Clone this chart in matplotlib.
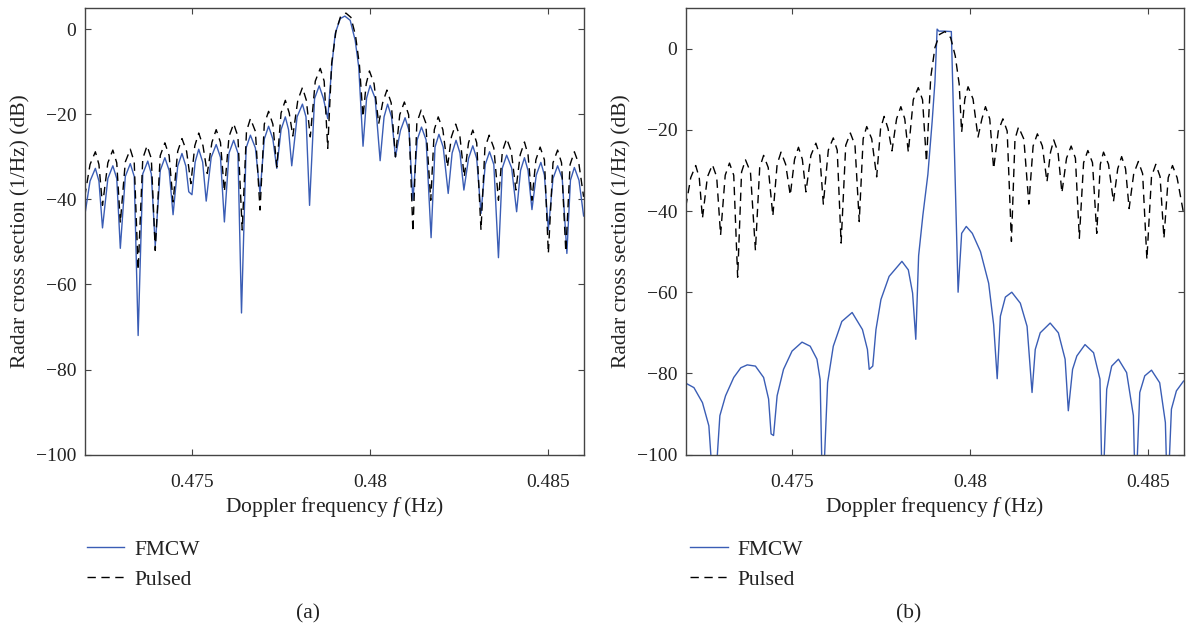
import matplotlib.pyplot as plt

plt.rcParams['font.family'] = ['Liberation Serif', 'DejaVu Serif']
plt.rcParams['mathtext.fontset'] = 'custom'
plt.rcParams['mathtext.rm'] = 'Liberation Serif'
plt.rcParams['mathtext.it'] = 'Liberation Serif:italic'
plt.rcParams['font.size'] = 15.5

FREQ_TICKS = [0.475, 0.48, 0.485]
FREQ_TICK_LABELS = ['0.475', '0.48', '0.485']
DB_TICKS = [0, -20, -40, -60, -80, -100]

# panel (a): FMCW
fmcw_a_freq = [
    0.47200, 0.47215, 0.47230, 0.47240, 0.47250, 0.47265, 0.47279, 0.47290,
    0.47300, 0.47314, 0.47328, 0.47339, 0.47350, 0.47363, 0.47377, 0.47387,
    0.47398, 0.47412, 0.47425, 0.47437, 0.47448, 0.47461, 0.47473, 0.47484,
    0.47492, 0.47501, 0.47510, 0.47520, 0.47531, 0.47541, 0.47555, 0.47569,
    0.47581, 0.47592, 0.47605, 0.47618, 0.47630, 0.47640, 0.47653, 0.47665,
    0.47679, 0.47692, 0.47704, 0.47716, 0.47728, 0.47739, 0.47751, 0.47763,
    0.47772, 0.47781, 0.47796, 0.47811, 0.47821, 0.47831, 0.47845, 0.47858,
    0.47870, 0.47882, 0.47894, 0.47903, 0.47917, 0.47930, 0.47945, 0.47959,
    0.47969, 0.47981, 0.47991, 0.48001, 0.48015, 0.48029, 0.48040, 0.48050,
    0.48061, 0.48072, 0.48086, 0.48099, 0.48110, 0.48121, 0.48133, 0.48145,
    0.48158, 0.48172, 0.48183, 0.48194, 0.48206, 0.48220, 0.48231, 0.48242,
    0.48253, 0.48264, 0.48277, 0.48289, 0.48300, 0.48312, 0.48324, 0.48336,
    0.48348, 0.48361, 0.48372, 0.48384, 0.48398, 0.48412, 0.48423, 0.48434,
    0.48444, 0.48455, 0.48467, 0.48480, 0.48490, 0.48501, 0.48514, 0.48527,
    0.48540, 0.48553, 0.48563, 0.48574, 0.48587, 0.48600,
]
fmcw_a_db = [
    -43.9, -35.7, -32.7, -35.7, -46.7, -35.1, -32.1, -35.1,
    -51.5, -34.6, -31.6, -34.6, -72.0, -34.0, -31.0, -34.0,
    -50.9, -33.2, -30.2, -33.2, -43.6, -32.2, -29.2, -32.2,
    -38.2, -38.9, -31.2, -28.2, -31.2, -40.4, -30.1, -27.1,
    -30.1, -45.3, -29.1, -26.1, -29.1, -66.7, -27.9, -24.9,
    -27.9, -38.6, -25.8, -22.8, -25.8, -32.7, -23.6, -20.6,
    -23.6, -32.1, -20.6, -17.6, -20.6, -41.4, -16.3, -13.3,
    -16.3, -21.0, -8.1, -1.0, 2.5, 3.1, 2.1, -2.6,
    -8.9, -27.5, -16.2, -13.2, -16.2, -30.9, -20.6, -17.6,
    -20.6, -30.0, -23.8, -20.8, -23.8, -40.2, -26.0, -23.0,
    -26.0, -49.0, -27.7, -24.7, -27.7, -38.6, -29.1, -26.1,
    -29.1, -37.8, -30.4, -27.4, -30.4, -43.3, -31.8, -28.8,
    -31.8, -53.7, -32.6, -29.6, -32.6, -42.9, -33.2, -30.2,
    -33.2, -42.4, -34.3, -31.3, -34.3, -47.2, -35.1, -32.1,
    -35.1, -52.7, -35.5, -32.5, -35.5, -43.9,
]

# panel (a): pulsed
pulsed_a_freq = [
    0.47200, 0.47215, 0.47230, 0.47240, 0.47250, 0.47265, 0.47279, 0.47290,
    0.47300, 0.47314, 0.47328, 0.47339, 0.47350, 0.47363, 0.47375, 0.47387,
    0.47398, 0.47412, 0.47425, 0.47437, 0.47448, 0.47461, 0.47473, 0.47486,
    0.47498, 0.47509, 0.47520, 0.47532, 0.47544, 0.47557, 0.47569, 0.47581,
    0.47592, 0.47605, 0.47618, 0.47630, 0.47642, 0.47654, 0.47665, 0.47679,
    0.47692, 0.47704, 0.47716, 0.47728, 0.47739, 0.47751, 0.47763, 0.47774,
    0.47784, 0.47798, 0.47811, 0.47822, 0.47833, 0.47847, 0.47861, 0.47872,
    0.47882, 0.47893, 0.47905, 0.47918, 0.47933, 0.47947, 0.47960, 0.47971,
    0.47981, 0.47990, 0.47999, 0.48012, 0.48025, 0.48036, 0.48048, 0.48060,
    0.48072, 0.48084, 0.48097, 0.48109, 0.48121, 0.48132, 0.48144, 0.48157,
    0.48171, 0.48181, 0.48192, 0.48205, 0.48218, 0.48229, 0.48241, 0.48253,
    0.48265, 0.48277, 0.48289, 0.48300, 0.48312, 0.48323, 0.48335, 0.48348,
    0.48361, 0.48372, 0.48384, 0.48397, 0.48410, 0.48422, 0.48434, 0.48444,
    0.48455, 0.48466, 0.48478, 0.48490, 0.48501, 0.48514, 0.48527, 0.48538,
    0.48550, 0.48562, 0.48574, 0.48587, 0.48600,
]
pulsed_a_db = [
    -39.4, -31.8, -28.8, -31.8, -41.4, -31.4, -28.4, -31.4,
    -45.5, -31.2, -28.2, -31.2, -56.6, -30.4, -27.4, -30.4,
    -52.0, -29.7, -26.7, -29.7, -40.6, -28.7, -25.7, -28.7,
    -36.3, -27.4, -24.4, -27.4, -33.9, -26.6, -23.6, -26.6,
    -38.2, -25.2, -22.2, -25.2, -47.2, -24.0, -21.0, -24.0,
    -42.5, -22.3, -19.3, -22.3, -32.4, -19.7, -16.7, -19.7,
    -25.1, -16.7, -13.7, -16.7, -25.3, -12.2, -9.2, -12.2,
    -28.0, -8.0, -0.5, 3.0, 3.8, 2.8, -1.5, -8.5,
    -20.6, -12.8, -9.8, -12.8, -22.2, -17.3, -14.3, -17.3,
    -30.0, -20.1, -17.1, -20.1, -47.6, -22.0, -19.0, -22.0,
    -40.2, -23.6, -20.6, -23.6, -32.4, -25.3, -22.3, -25.3,
    -34.7, -26.7, -23.7, -26.7, -47.2, -27.9, -24.9, -27.9,
    -40.2, -28.7, -25.7, -28.7, -37.8, -29.5, -26.5, -29.5,
    -40.2, -30.7, -27.7, -30.7, -52.7, -31.4, -28.4, -31.4,
    -52.3, -31.8, -28.8, -31.8, -39.4,
]

# panel (b): FMCW
fmcw_b_freq = [
    0.47200, 0.47223, 0.47247, 0.47265, 0.47280, 0.47296, 0.47312, 0.47335,
    0.47355, 0.47373, 0.47396, 0.47419, 0.47433, 0.47440, 0.47447, 0.47457,
    0.47475, 0.47499, 0.47527, 0.47550, 0.47569, 0.47578, 0.47585, 0.47599,
    0.47615, 0.47639, 0.47668, 0.47697, 0.47711, 0.47716, 0.47726, 0.47735,
    0.47749, 0.47772, 0.47808, 0.47826, 0.47838, 0.47847, 0.47855, 0.47867,
    0.47881, 0.47893, 0.47901, 0.47907, 0.47912, 0.47926, 0.47947, 0.47966,
    0.47976, 0.47989, 0.48006, 0.48029, 0.48052, 0.48066, 0.48076, 0.48085,
    0.48099, 0.48117, 0.48141, 0.48160, 0.48174, 0.48183, 0.48197, 0.48225,
    0.48248, 0.48267, 0.48276, 0.48288, 0.48300, 0.48323, 0.48347, 0.48365,
    0.48372, 0.48384, 0.48398, 0.48417, 0.48440, 0.48459, 0.48465, 0.48477,
    0.48491, 0.48510, 0.48533, 0.48549, 0.48555, 0.48566, 0.48580, 0.48600,
]
fmcw_b_db = [
    -82.4, -83.5, -87.2, -92.9, -112.0, -90.4, -85.5, -81.0,
    -78.6, -77.9, -78.2, -81.0, -86.3, -94.9, -95.3, -85.5,
    -79.0, -74.5, -72.3, -73.3, -76.5, -81.5, -112.0, -82.3,
    -73.3, -67.2, -65.0, -69.2, -74.1, -79.0, -78.2, -69.2,
    -61.8, -56.1, -52.4, -54.5, -60.2, -71.6, -51.0, -41.0,
    -31.0, -18.0, -8.0, 4.8, 4.3, 4.3, 4.2, -60.0,
    -45.5, -43.8, -45.5, -50.0, -57.8, -68.0, -81.3, -65.9,
    -61.2, -60.0, -62.7, -68.4, -84.7, -74.1, -70.0, -67.6,
    -70.0, -76.5, -89.2, -79.0, -75.7, -72.9, -74.9, -81.4,
    -112.0, -83.9, -78.2, -76.5, -79.8, -90.4, -112.0, -84.7,
    -80.6, -79.2, -82.3, -92.1, -112.0, -88.8, -84.3, -81.9,
]

# panel (b): pulsed
pulsed_b_freq = [
    0.47200, 0.47214, 0.47228, 0.47238, 0.47247, 0.47261, 0.47275, 0.47287,
    0.47298, 0.47311, 0.47323, 0.47335, 0.47346, 0.47357, 0.47368, 0.47382,
    0.47396, 0.47408, 0.47419, 0.47432, 0.47445, 0.47457, 0.47468, 0.47481,
    0.47494, 0.47506, 0.47517, 0.47528, 0.47538, 0.47552, 0.47566, 0.47577,
    0.47587, 0.47601, 0.47615, 0.47626, 0.47637, 0.47650, 0.47663, 0.47676,
    0.47688, 0.47699, 0.47709, 0.47723, 0.47737, 0.47748, 0.47758, 0.47769,
    0.47780, 0.47793, 0.47805, 0.47816, 0.47826, 0.47840, 0.47854, 0.47866,
    0.47877, 0.47889, 0.47901, 0.47914, 0.47929, 0.47945, 0.47958, 0.47969,
    0.47976, 0.47985, 0.47994, 0.48008, 0.48022, 0.48033, 0.48043, 0.48055,
    0.48066, 0.48079, 0.48092, 0.48104, 0.48116, 0.48126, 0.48136, 0.48151,
    0.48165, 0.48177, 0.48189, 0.48203, 0.48216, 0.48226, 0.48235, 0.48247,
    0.48258, 0.48271, 0.48284, 0.48296, 0.48307, 0.48319, 0.48331, 0.48344,
    0.48356, 0.48366, 0.48375, 0.48389, 0.48403, 0.48415, 0.48426, 0.48437,
    0.48447, 0.48460, 0.48473, 0.48485, 0.48497, 0.48510, 0.48522, 0.48534,
    0.48545, 0.48557, 0.48569, 0.48582, 0.48600,
]
pulsed_b_db = [
    -39.0, -31.8, -28.8, -31.8, -41.8, -31.6, -28.6, -31.6,
    -45.9, -31.2, -28.2, -31.2, -56.3, -30.4, -27.4, -30.4,
    -49.7, -29.3, -26.3, -29.3, -41.2, -28.5, -25.5, -28.5,
    -36.1, -27.3, -24.3, -27.3, -35.3, -26.3, -23.3, -26.3,
    -38.3, -25.0, -22.0, -25.0, -47.9, -23.8, -20.8, -23.8,
    -42.6, -22.2, -19.2, -22.2, -31.6, -19.7, -16.7, -19.7,
    -25.2, -17.3, -14.3, -17.3, -25.5, -12.6, -9.6, -12.6,
    -27.9, -7.1, 0.3, 3.5, 4.2, 2.7, -1.8, -8.7,
    -20.6, -12.4, -9.4, -12.4, -21.8, -17.3, -14.3, -17.3,
    -29.6, -20.3, -17.3, -20.3, -47.5, -22.3, -19.3, -22.3,
    -38.3, -24.0, -21.0, -24.0, -32.8, -25.5, -22.5, -25.5,
    -35.5, -27.0, -24.0, -27.0, -46.7, -28.1, -25.1, -28.1,
    -45.5, -28.5, -25.5, -28.5, -37.7, -29.6, -26.6, -29.6,
    -39.4, -30.8, -27.8, -30.8, -51.9, -31.5, -28.5, -31.5,
    -46.7, -31.8, -28.8, -31.8, -40.5,
]

BLUE = '#3a5db5'
INK = '#222222'


def draw_panel(ax, fmcw_f, fmcw_db, pulsed_f, pulsed_db, ylim):
    ax.plot(fmcw_f, fmcw_db, color=BLUE, lw=1.0, label='FMCW')
    ax.plot(pulsed_f, pulsed_db, color='black', lw=1.0,
            dashes=(6, 4), label='Pulsed')
    ax.set_xlim(0.472, 0.486)
    ax.set_ylim(*ylim)
    ax.set_xticks(FREQ_TICKS)
    ax.set_xticklabels(FREQ_TICK_LABELS)
    ax.set_yticks(DB_TICKS)
    ax.tick_params(direction='in', top=True, right=True, length=4,
                   width=0.8, color='#444444', labelcolor=INK,
                   labelsize=14)
    ax.tick_params(axis='x', pad=14)
    ax.tick_params(axis='y', pad=6)
    for sp in ax.spines.values():
        sp.set_color('#444444')
        sp.set_linewidth(1.0)
    ax.set_xlabel('Doppler frequency $f$ (Hz)', color=INK, labelpad=3)
    ax.set_ylabel('Radar cross section (1/Hz) (dB)', color=INK, labelpad=4)


fig = plt.figure(figsize=(11.86, 6.30), dpi=100)
ax_a = fig.add_axes([0.0714, 0.2784, 0.4207, 0.7089])
ax_b = fig.add_axes([0.5782, 0.2784, 0.4197, 0.7089])

draw_panel(ax_a, fmcw_a_freq, fmcw_a_db, pulsed_a_freq, pulsed_a_db, (-100, 5))
draw_panel(ax_b, fmcw_b_freq, fmcw_b_db, pulsed_b_freq, pulsed_b_db, (-100, 10))

for ax, x0, tag, xc in [(ax_a, 0.0658, '(a)', 0.2597),
                        (ax_b, 0.5745, '(b)', 0.7664)]:
    leg = ax.legend(loc='center left', bbox_to_anchor=(x0, 0.1035),
                    bbox_transform=fig.transFigure, frameon=False,
                    handlelength=1.75, handletextpad=0.45, labelspacing=0.45,
                    borderaxespad=0)
    for t in leg.get_texts():
        t.set_color(INK)
    fig.text(xc, 0.026, tag, ha='center', va='center', color=INK)

fig.savefig('out.png', dpi=100)
